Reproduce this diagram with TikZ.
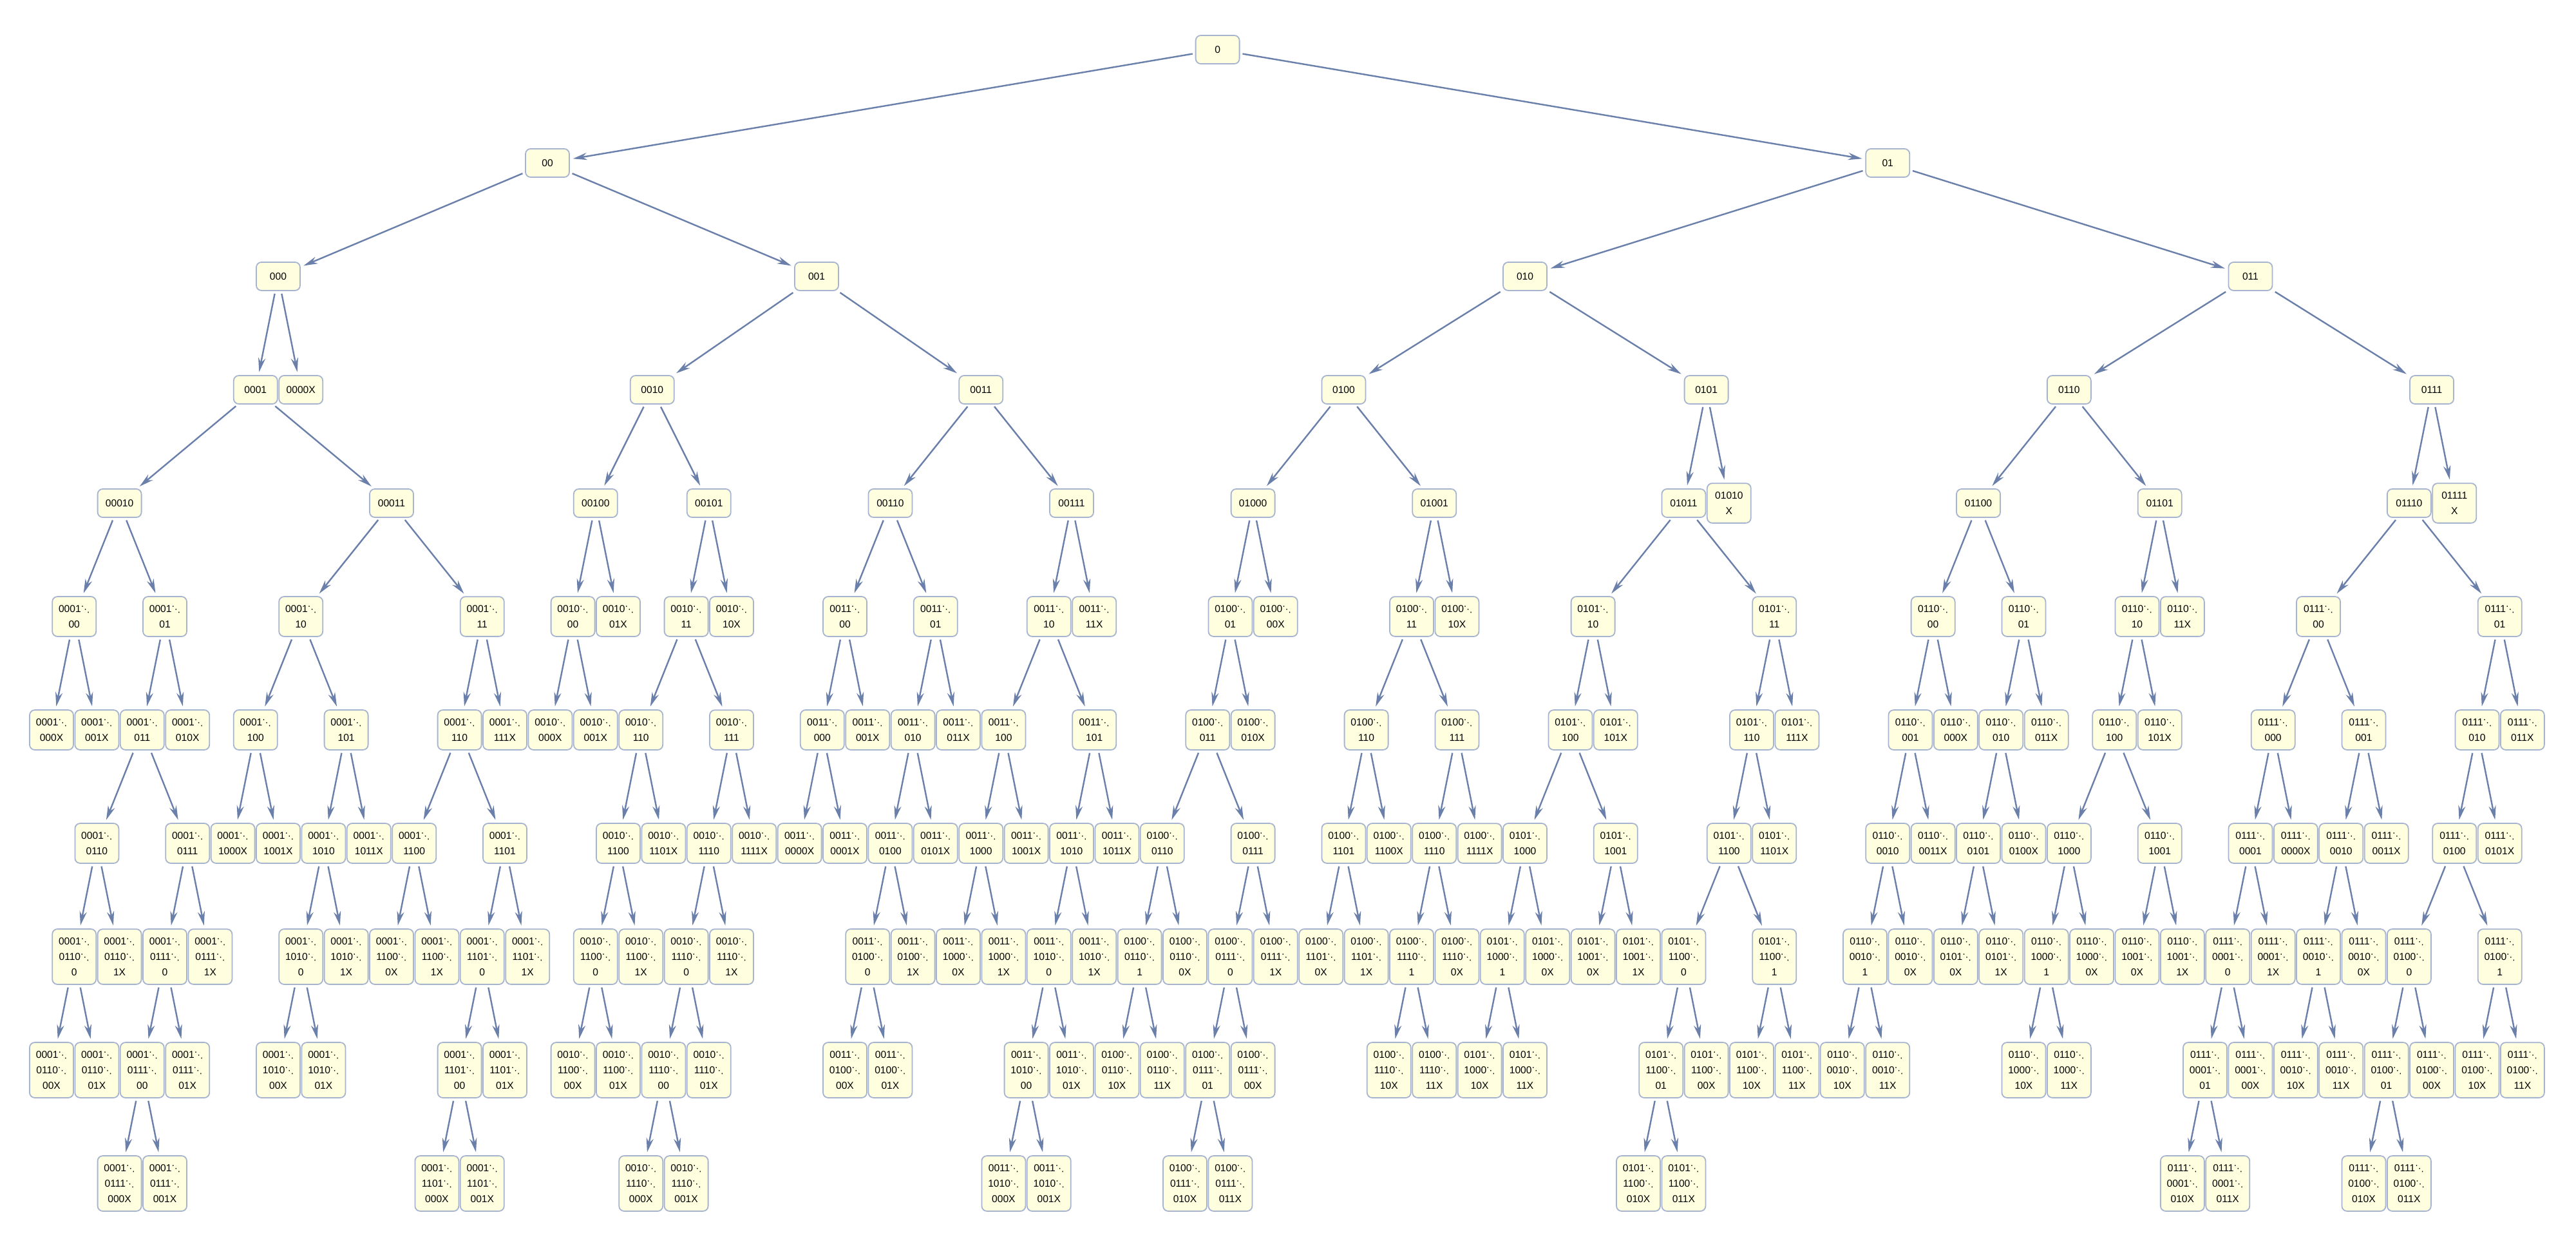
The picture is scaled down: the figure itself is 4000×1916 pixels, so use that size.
\documentclass[tikz,border=0pt]{standalone}
\usepackage{fontspec}
\setmainfont{Liberation Sans}
\newfontfamily\markfont{DejaVu Sans}
\usetikzlibrary{arrows.meta}
\definecolor{boxfill}{HTML}{FFFFDF}
\definecolor{boxline}{HTML}{A6B4CF}
\definecolor{edgecol}{HTML}{6A80AA}
\def\ctm{{\markfont\fontsize{3.4pt}{6pt}\selectfont ⋱}}
\newcommand\tn[5]{\node[box] (#1) at ({80+70.4*(#3)},{77+176*(#4)}) {#5}; \draw[edge] (#2) -- (#1);}
\begin{document}
\begin{tikzpicture}[x=0.25pt,y=-0.25pt,
  box/.style={draw=boxline, fill=boxfill, rounded corners=2pt, line width=0.45pt,
    minimum width=17pt, minimum height=11pt, inner xsep=0pt, inner ysep=3.35pt,
    align=center, font=\fontsize{3.9pt}{6pt}\selectfont},
  edge/.style={draw=edgecol, line width=0.6pt, -{Stealth[length=5.5pt,width=2.8pt]},
    shorten <=1pt, shorten >=1.2pt}]
\fill[white] (0,0) rectangle (4000,1916);
\useasboundingbox (0,0) rectangle (4000,1916);
% L0
\node[box] (n0) at ({80+70.4*25.71875},77) {0};
% L1
\tn{n00}{n0}{10.9375}{1}{00}
\tn{n01}{n0}{40.5}{1}{01}
% L2
\tn{n000}{n00}{5}{2}{000}
\tn{n001}{n00}{16.875}{2}{001}
\tn{n010}{n01}{32.5}{2}{010}
\tn{n011}{n01}{48.5}{2}{011}
% L3
\tn{n0001}{n000}{4.5}{3}{0001}
\tn{n0000X}{n000}{5.5}{3}{0000X}
\tn{n0010}{n001}{13.25}{3}{0010}
\tn{n0011}{n001}{20.5}{3}{0011}
\tn{n0100}{n010}{28.5}{3}{0100}
\tn{n0101}{n010}{36.5}{3}{0101}
\tn{n0110}{n011}{44.5}{3}{0110}
\tn{n0111}{n011}{52.5}{3}{0111}
% L4
\tn{n00010}{n0001}{1.5}{4}{00010}
\tn{n00011}{n0001}{7.5}{4}{00011}
\tn{n00100}{n0010}{12}{4}{00100}
\tn{n00101}{n0010}{14.5}{4}{00101}
\tn{n00110}{n0011}{18.5}{4}{00110}
\tn{n00111}{n0011}{22.5}{4}{00111}
\tn{n01000}{n0100}{26.5}{4}{01000}
\tn{n01001}{n0100}{30.5}{4}{01001}
\tn{n01011}{n0101}{36}{4}{01011}
\tn{n01010X}{n0101}{37}{4}{01010\\X}
\tn{n01100}{n0110}{42.5}{4}{01100}
\tn{n01101}{n0110}{46.5}{4}{01101}
\tn{n01110}{n0111}{52}{4}{01110}
\tn{n01111X}{n0111}{53}{4}{01111\\X}
% L5
\tn{n000100}{n00010}{0.5}{5}{0001\ctm\\00}
\tn{n000101}{n00010}{2.5}{5}{0001\ctm\\01}
\tn{n000110}{n00011}{5.5}{5}{0001\ctm\\10}
\tn{n000111}{n00011}{9.5}{5}{0001\ctm\\11}
\tn{n001000}{n00100}{11.5}{5}{0010\ctm\\00}
\tn{n001001X}{n00100}{12.5}{5}{0010\ctm\\01X}
\tn{n001011}{n00101}{14}{5}{0010\ctm\\11}
\tn{n001010X}{n00101}{15}{5}{0010\ctm\\10X}
\tn{n001100}{n00110}{17.5}{5}{0011\ctm\\00}
\tn{n001101}{n00110}{19.5}{5}{0011\ctm\\01}
\tn{n001110}{n00111}{22}{5}{0011\ctm\\10}
\tn{n001111X}{n00111}{23}{5}{0011\ctm\\11X}
\tn{n010001}{n01000}{26}{5}{0100\ctm\\01}
\tn{n010000X}{n01000}{27}{5}{0100\ctm\\00X}
\tn{n010011}{n01001}{30}{5}{0100\ctm\\11}
\tn{n010010X}{n01001}{31}{5}{0100\ctm\\10X}
\tn{n010110}{n01011}{34}{5}{0101\ctm\\10}
\tn{n010111}{n01011}{38}{5}{0101\ctm\\11}
\tn{n011000}{n01100}{41.5}{5}{0110\ctm\\00}
\tn{n011001}{n01100}{43.5}{5}{0110\ctm\\01}
\tn{n011010}{n01101}{46}{5}{0110\ctm\\10}
\tn{n011011X}{n01101}{47}{5}{0110\ctm\\11X}
\tn{n011100}{n01110}{50}{5}{0111\ctm\\00}
\tn{n011101}{n01110}{54}{5}{0111\ctm\\01}
% L6
\tn{n0001000X}{n000100}{0}{6}{0001\ctm\\000X}
\tn{n0001001X}{n000100}{1}{6}{0001\ctm\\001X}
\tn{n0001011}{n000101}{2}{6}{0001\ctm\\011}
\tn{n0001010X}{n000101}{3}{6}{0001\ctm\\010X}
\tn{n0001100}{n000110}{4.5}{6}{0001\ctm\\100}
\tn{n0001101}{n000110}{6.5}{6}{0001\ctm\\101}
\tn{n0001110}{n000111}{9}{6}{0001\ctm\\110}
\tn{n0001111X}{n000111}{10}{6}{0001\ctm\\111X}
\tn{n0010000X}{n001000}{11}{6}{0010\ctm\\000X}
\tn{n0010001X}{n001000}{12}{6}{0010\ctm\\001X}
\tn{n0010110}{n001011}{13}{6}{0010\ctm\\110}
\tn{n0010111}{n001011}{15}{6}{0010\ctm\\111}
\tn{n0011000}{n001100}{17}{6}{0011\ctm\\000}
\tn{n0011001X}{n001100}{18}{6}{0011\ctm\\001X}
\tn{n0011010}{n001101}{19}{6}{0011\ctm\\010}
\tn{n0011011X}{n001101}{20}{6}{0011\ctm\\011X}
\tn{n0011100}{n001110}{21}{6}{0011\ctm\\100}
\tn{n0011101}{n001110}{23}{6}{0011\ctm\\101}
\tn{n0100011}{n010001}{25.5}{6}{0100\ctm\\011}
\tn{n0100010X}{n010001}{26.5}{6}{0100\ctm\\010X}
\tn{n0100110}{n010011}{29}{6}{0100\ctm\\110}
\tn{n0100111}{n010011}{31}{6}{0100\ctm\\111}
\tn{n0101100}{n010110}{33.5}{6}{0101\ctm\\100}
\tn{n0101101X}{n010110}{34.5}{6}{0101\ctm\\101X}
\tn{n0101110}{n010111}{37.5}{6}{0101\ctm\\110}
\tn{n0101111X}{n010111}{38.5}{6}{0101\ctm\\111X}
\tn{n0110001}{n011000}{41}{6}{0110\ctm\\001}
\tn{n0110000X}{n011000}{42}{6}{0110\ctm\\000X}
\tn{n0110010}{n011001}{43}{6}{0110\ctm\\010}
\tn{n0110011X}{n011001}{44}{6}{0110\ctm\\011X}
\tn{n0110100}{n011010}{45.5}{6}{0110\ctm\\100}
\tn{n0110101X}{n011010}{46.5}{6}{0110\ctm\\101X}
\tn{n0111000}{n011100}{49}{6}{0111\ctm\\000}
\tn{n0111001}{n011100}{51}{6}{0111\ctm\\001}
\tn{n0111010}{n011101}{53.5}{6}{0111\ctm\\010}
\tn{n0111011X}{n011101}{54.5}{6}{0111\ctm\\011X}
% L7
\tn{n00010110}{n0001011}{1}{7}{0001\ctm\\0110}
\tn{n00010111}{n0001011}{3}{7}{0001\ctm\\0111}
\tn{n00011000X}{n0001100}{4}{7}{0001\ctm\\1000X}
\tn{n00011001X}{n0001100}{5}{7}{0001\ctm\\1001X}
\tn{n00011010}{n0001101}{6}{7}{0001\ctm\\1010}
\tn{n00011011X}{n0001101}{7}{7}{0001\ctm\\1011X}
\tn{n00011100}{n0001110}{8}{7}{0001\ctm\\1100}
\tn{n00011101}{n0001110}{10}{7}{0001\ctm\\1101}
\tn{n00101100}{n0010110}{12.5}{7}{0010\ctm\\1100}
\tn{n00101101X}{n0010110}{13.5}{7}{0010\ctm\\1101X}
\tn{n00101110}{n0010111}{14.5}{7}{0010\ctm\\1110}
\tn{n00101111X}{n0010111}{15.5}{7}{0010\ctm\\1111X}
\tn{n00110000X}{n0011000}{16.5}{7}{0011\ctm\\0000X}
\tn{n00110001X}{n0011000}{17.5}{7}{0011\ctm\\0001X}
\tn{n00110100}{n0011010}{18.5}{7}{0011\ctm\\0100}
\tn{n00110101X}{n0011010}{19.5}{7}{0011\ctm\\0101X}
\tn{n00111000}{n0011100}{20.5}{7}{0011\ctm\\1000}
\tn{n00111001X}{n0011100}{21.5}{7}{0011\ctm\\1001X}
\tn{n00111010}{n0011101}{22.5}{7}{0011\ctm\\1010}
\tn{n00111011X}{n0011101}{23.5}{7}{0011\ctm\\1011X}
\tn{n01000110}{n0100011}{24.5}{7}{0100\ctm\\0110}
\tn{n01000111}{n0100011}{26.5}{7}{0100\ctm\\0111}
\tn{n01001101}{n0100110}{28.5}{7}{0100\ctm\\1101}
\tn{n01001100X}{n0100110}{29.5}{7}{0100\ctm\\1100X}
\tn{n01001110}{n0100111}{30.5}{7}{0100\ctm\\1110}
\tn{n01001111X}{n0100111}{31.5}{7}{0100\ctm\\1111X}
\tn{n01011000}{n0101100}{32.5}{7}{0101\ctm\\1000}
\tn{n01011001}{n0101100}{34.5}{7}{0101\ctm\\1001}
\tn{n01011100}{n0101110}{37}{7}{0101\ctm\\1100}
\tn{n01011101X}{n0101110}{38}{7}{0101\ctm\\1101X}
\tn{n01100010}{n0110001}{40.5}{7}{0110\ctm\\0010}
\tn{n01100011X}{n0110001}{41.5}{7}{0110\ctm\\0011X}
\tn{n01100101}{n0110010}{42.5}{7}{0110\ctm\\0101}
\tn{n01100100X}{n0110010}{43.5}{7}{0110\ctm\\0100X}
\tn{n01101000}{n0110100}{44.5}{7}{0110\ctm\\1000}
\tn{n01101001}{n0110100}{46.5}{7}{0110\ctm\\1001}
\tn{n01110001}{n0111000}{48.5}{7}{0111\ctm\\0001}
\tn{n01110000X}{n0111000}{49.5}{7}{0111\ctm\\0000X}
\tn{n01110010}{n0111001}{50.5}{7}{0111\ctm\\0010}
\tn{n01110011X}{n0111001}{51.5}{7}{0111\ctm\\0011X}
\tn{n01110100}{n0111010}{53}{7}{0111\ctm\\0100}
\tn{n01110101X}{n0111010}{54}{7}{0111\ctm\\0101X}
% L8
\tn{n000101100}{n00010110}{0.5}{8}{0001\ctm\\0110\ctm\\0}
\tn{n000101101X}{n00010110}{1.5}{8}{0001\ctm\\0110\ctm\\1X}
\tn{n000101110}{n00010111}{2.5}{8}{0001\ctm\\0111\ctm\\0}
\tn{n000101111X}{n00010111}{3.5}{8}{0001\ctm\\0111\ctm\\1X}
\tn{n000110100}{n00011010}{5.5}{8}{0001\ctm\\1010\ctm\\0}
\tn{n000110101X}{n00011010}{6.5}{8}{0001\ctm\\1010\ctm\\1X}
\tn{n000111000X}{n00011100}{7.5}{8}{0001\ctm\\1100\ctm\\0X}
\tn{n000111001X}{n00011100}{8.5}{8}{0001\ctm\\1100\ctm\\1X}
\tn{n000111010}{n00011101}{9.5}{8}{0001\ctm\\1101\ctm\\0}
\tn{n000111011X}{n00011101}{10.5}{8}{0001\ctm\\1101\ctm\\1X}
\tn{n001011000}{n00101100}{12}{8}{0010\ctm\\1100\ctm\\0}
\tn{n001011001X}{n00101100}{13}{8}{0010\ctm\\1100\ctm\\1X}
\tn{n001011100}{n00101110}{14}{8}{0010\ctm\\1110\ctm\\0}
\tn{n001011101X}{n00101110}{15}{8}{0010\ctm\\1110\ctm\\1X}
\tn{n001101000}{n00110100}{18}{8}{0011\ctm\\0100\ctm\\0}
\tn{n001101001X}{n00110100}{19}{8}{0011\ctm\\0100\ctm\\1X}
\tn{n001110000X}{n00111000}{20}{8}{0011\ctm\\1000\ctm\\0X}
\tn{n001110001X}{n00111000}{21}{8}{0011\ctm\\1000\ctm\\1X}
\tn{n001110100}{n00111010}{22}{8}{0011\ctm\\1010\ctm\\0}
\tn{n001110101X}{n00111010}{23}{8}{0011\ctm\\1010\ctm\\1X}
\tn{n010001101}{n01000110}{24}{8}{0100\ctm\\0110\ctm\\1}
\tn{n010001100X}{n01000110}{25}{8}{0100\ctm\\0110\ctm\\0X}
\tn{n010001110}{n01000111}{26}{8}{0100\ctm\\0111\ctm\\0}
\tn{n010001111X}{n01000111}{27}{8}{0100\ctm\\0111\ctm\\1X}
\tn{n010011010X}{n01001101}{28}{8}{0100\ctm\\1101\ctm\\0X}
\tn{n010011011X}{n01001101}{29}{8}{0100\ctm\\1101\ctm\\1X}
\tn{n010011101}{n01001110}{30}{8}{0100\ctm\\1110\ctm\\1}
\tn{n010011100X}{n01001110}{31}{8}{0100\ctm\\1110\ctm\\0X}
\tn{n010110001}{n01011000}{32}{8}{0101\ctm\\1000\ctm\\1}
\tn{n010110000X}{n01011000}{33}{8}{0101\ctm\\1000\ctm\\0X}
\tn{n010110010X}{n01011001}{34}{8}{0101\ctm\\1001\ctm\\0X}
\tn{n010110011X}{n01011001}{35}{8}{0101\ctm\\1001\ctm\\1X}
\tn{n010111000}{n01011100}{36}{8}{0101\ctm\\1100\ctm\\0}
\tn{n010111001}{n01011100}{38}{8}{0101\ctm\\1100\ctm\\1}
\tn{n011000101}{n01100010}{40}{8}{0110\ctm\\0010\ctm\\1}
\tn{n011000100X}{n01100010}{41}{8}{0110\ctm\\0010\ctm\\0X}
\tn{n011001010X}{n01100101}{42}{8}{0110\ctm\\0101\ctm\\0X}
\tn{n011001011X}{n01100101}{43}{8}{0110\ctm\\0101\ctm\\1X}
\tn{n011010001}{n01101000}{44}{8}{0110\ctm\\1000\ctm\\1}
\tn{n011010000X}{n01101000}{45}{8}{0110\ctm\\1000\ctm\\0X}
\tn{n011010010X}{n01101001}{46}{8}{0110\ctm\\1001\ctm\\0X}
\tn{n011010011X}{n01101001}{47}{8}{0110\ctm\\1001\ctm\\1X}
\tn{n011100010}{n01110001}{48}{8}{0111\ctm\\0001\ctm\\0}
\tn{n011100011X}{n01110001}{49}{8}{0111\ctm\\0001\ctm\\1X}
\tn{n011100101}{n01110010}{50}{8}{0111\ctm\\0010\ctm\\1}
\tn{n011100100X}{n01110010}{51}{8}{0111\ctm\\0010\ctm\\0X}
\tn{n011101000}{n01110100}{52}{8}{0111\ctm\\0100\ctm\\0}
\tn{n011101001}{n01110100}{54}{8}{0111\ctm\\0100\ctm\\1}
% L9
\tn{n0001011000X}{n000101100}{0}{9}{0001\ctm\\0110\ctm\\00X}
\tn{n0001011001X}{n000101100}{1}{9}{0001\ctm\\0110\ctm\\01X}
\tn{n0001011100}{n000101110}{2}{9}{0001\ctm\\0111\ctm\\00}
\tn{n0001011101X}{n000101110}{3}{9}{0001\ctm\\0111\ctm\\01X}
\tn{n0001101000X}{n000110100}{5}{9}{0001\ctm\\1010\ctm\\00X}
\tn{n0001101001X}{n000110100}{6}{9}{0001\ctm\\1010\ctm\\01X}
\tn{n0001110100}{n000111010}{9}{9}{0001\ctm\\1101\ctm\\00}
\tn{n0001110101X}{n000111010}{10}{9}{0001\ctm\\1101\ctm\\01X}
\tn{n0010110000X}{n001011000}{11.5}{9}{0010\ctm\\1100\ctm\\00X}
\tn{n0010110001X}{n001011000}{12.5}{9}{0010\ctm\\1100\ctm\\01X}
\tn{n0010111000}{n001011100}{13.5}{9}{0010\ctm\\1110\ctm\\00}
\tn{n0010111001X}{n001011100}{14.5}{9}{0010\ctm\\1110\ctm\\01X}
\tn{n0011010000X}{n001101000}{17.5}{9}{0011\ctm\\0100\ctm\\00X}
\tn{n0011010001X}{n001101000}{18.5}{9}{0011\ctm\\0100\ctm\\01X}
\tn{n0011101000}{n001110100}{21.5}{9}{0011\ctm\\1010\ctm\\00}
\tn{n0011101001X}{n001110100}{22.5}{9}{0011\ctm\\1010\ctm\\01X}
\tn{n0100011010X}{n010001101}{23.5}{9}{0100\ctm\\0110\ctm\\10X}
\tn{n0100011011X}{n010001101}{24.5}{9}{0100\ctm\\0110\ctm\\11X}
\tn{n0100011101}{n010001110}{25.5}{9}{0100\ctm\\0111\ctm\\01}
\tn{n0100011100X}{n010001110}{26.5}{9}{0100\ctm\\0111\ctm\\00X}
\tn{n0100111010X}{n010011101}{29.5}{9}{0100\ctm\\1110\ctm\\10X}
\tn{n0100111011X}{n010011101}{30.5}{9}{0100\ctm\\1110\ctm\\11X}
\tn{n0101100010X}{n010110001}{31.5}{9}{0101\ctm\\1000\ctm\\10X}
\tn{n0101100011X}{n010110001}{32.5}{9}{0101\ctm\\1000\ctm\\11X}
\tn{n0101110001}{n010111000}{35.5}{9}{0101\ctm\\1100\ctm\\01}
\tn{n0101110000X}{n010111000}{36.5}{9}{0101\ctm\\1100\ctm\\00X}
\tn{n0101110010X}{n010111001}{37.5}{9}{0101\ctm\\1100\ctm\\10X}
\tn{n0101110011X}{n010111001}{38.5}{9}{0101\ctm\\1100\ctm\\11X}
\tn{n0110001010X}{n011000101}{39.5}{9}{0110\ctm\\0010\ctm\\10X}
\tn{n0110001011X}{n011000101}{40.5}{9}{0110\ctm\\0010\ctm\\11X}
\tn{n0110100010X}{n011010001}{43.5}{9}{0110\ctm\\1000\ctm\\10X}
\tn{n0110100011X}{n011010001}{44.5}{9}{0110\ctm\\1000\ctm\\11X}
\tn{n0111000101}{n011100010}{47.5}{9}{0111\ctm\\0001\ctm\\01}
\tn{n0111000100X}{n011100010}{48.5}{9}{0111\ctm\\0001\ctm\\00X}
\tn{n0111001010X}{n011100101}{49.5}{9}{0111\ctm\\0010\ctm\\10X}
\tn{n0111001011X}{n011100101}{50.5}{9}{0111\ctm\\0010\ctm\\11X}
\tn{n0111010001}{n011101000}{51.5}{9}{0111\ctm\\0100\ctm\\01}
\tn{n0111010000X}{n011101000}{52.5}{9}{0111\ctm\\0100\ctm\\00X}
\tn{n0111010010X}{n011101001}{53.5}{9}{0111\ctm\\0100\ctm\\10X}
\tn{n0111010011X}{n011101001}{54.5}{9}{0111\ctm\\0100\ctm\\11X}
% L10
\tn{n00010111000X}{n0001011100}{1.5}{10}{0001\ctm\\0111\ctm\\000X}
\tn{n00010111001X}{n0001011100}{2.5}{10}{0001\ctm\\0111\ctm\\001X}
\tn{n00011101000X}{n0001110100}{8.5}{10}{0001\ctm\\1101\ctm\\000X}
\tn{n00011101001X}{n0001110100}{9.5}{10}{0001\ctm\\1101\ctm\\001X}
\tn{n00101110000X}{n0010111000}{13}{10}{0010\ctm\\1110\ctm\\000X}
\tn{n00101110001X}{n0010111000}{14}{10}{0010\ctm\\1110\ctm\\001X}
\tn{n00111010000X}{n0011101000}{21}{10}{0011\ctm\\1010\ctm\\000X}
\tn{n00111010001X}{n0011101000}{22}{10}{0011\ctm\\1010\ctm\\001X}
\tn{n01000111010X}{n0100011101}{25}{10}{0100\ctm\\0111\ctm\\010X}
\tn{n01000111011X}{n0100011101}{26}{10}{0100\ctm\\0111\ctm\\011X}
\tn{n01011100010X}{n0101110001}{35}{10}{0101\ctm\\1100\ctm\\010X}
\tn{n01011100011X}{n0101110001}{36}{10}{0101\ctm\\1100\ctm\\011X}
\tn{n01110001010X}{n0111000101}{47}{10}{0111\ctm\\0001\ctm\\010X}
\tn{n01110001011X}{n0111000101}{48}{10}{0111\ctm\\0001\ctm\\011X}
\tn{n01110100010X}{n0111010001}{51}{10}{0111\ctm\\0100\ctm\\010X}
\tn{n01110100011X}{n0111010001}{52}{10}{0111\ctm\\0100\ctm\\011X}
\end{tikzpicture}
\end{document}
